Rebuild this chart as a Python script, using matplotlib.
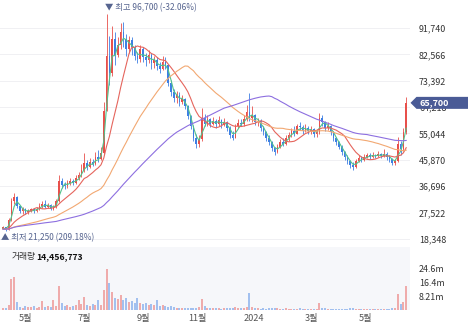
import numpy as np
import pandas as pd
import matplotlib
matplotlib.use('Agg')
import matplotlib.pyplot as plt
import matplotlib.transforms as mtransforms
from matplotlib.patches import Polygon

plt.rcParams['font.family'] = ['Noto Sans CJK KR', 'DejaVu Sans']

# two-session candles, Apr 2023 - Jun 2024 (won)
closes = [22400, 21600, 24800, 31500, 32800, 29800, 28200, 28800, 27600, 28000,
          28700, 28100, 28900, 29800, 30500, 29600, 30200, 28900, 29500, 31500,
          38500, 37200, 36800, 37900, 38600, 37700, 39400, 40500, 42500, 44800,
          43300, 45200, 44400, 47000, 46300, 48200, 63000, 82000, 76000, 88000,
          82500, 86000, 90500, 88000, 84500, 87500, 85000, 82000, 81000, 84500,
          81500, 80500, 82500, 79500, 80500, 78500, 77500, 80000, 79000, 72500,
          69500, 67500, 68500, 66000, 67200, 64500, 61000, 57500, 53500, 51500,
          53000, 60500, 58500, 60000, 58200, 59500, 58300, 59800, 58000, 59000,
          57000, 54500, 53500, 57500, 58800, 58200, 60000, 62500, 60500, 61500,
          59000, 59500, 57000, 55500, 53500, 52000, 50000, 48500, 50500, 52000,
          51500, 53500, 54500, 56000, 55000, 57500, 57200, 56000, 57000, 55800,
          56500, 54800, 55500, 60500, 59000, 57000, 57800, 55500, 53500, 52000,
          50500, 48500, 47000, 45500, 44000, 43500, 45500, 46500, 45800, 47000,
          47500, 47000, 47600, 47200, 47800, 47300, 47900, 47000, 46300, 44800,
          45500, 51500, 49500, 55500, 65700]
highs = [22900, 22600, 25500, 32500, 34400, 33200, 29800, 29500, 29000, 28700,
         29300, 29000, 29600, 30700, 31400, 31800, 31000, 30500, 30200, 32400,
         40500, 39500, 38200, 38800, 39600, 39200, 40600, 41800, 44500, 48300,
         46000, 46500, 46200, 48500, 49300, 50200, 66000, 96700, 89000, 92500,
         90500, 88500, 93500, 93800, 89500, 89000, 88500, 86000, 83500, 86000,
         85000, 83000, 84000, 83000, 82000, 81500, 80000, 82000, 81500, 79000,
         73500, 70500, 70000, 69500, 68500, 67500, 65000, 61500, 58000, 55000,
         54500, 64000, 62000, 61500, 60500, 60800, 60000, 61000, 60200, 60500,
         59500, 57500, 56000, 58500, 60000, 60200, 61500, 65000, 69000, 64500,
         62000, 60500, 60000, 57500, 56000, 54500, 52500, 50500, 51500, 53000,
         53500, 54500, 55500, 57000, 57500, 58500, 59000, 58000, 58500, 57500,
         57500, 57000, 56500, 62300, 61500, 59500, 59000, 58000, 56000, 54000,
         52500, 51000, 49000, 47500, 46000, 45000, 46200, 47500, 47200, 48000,
         48300, 48200, 48500, 48000, 48800, 48300, 49500, 48500, 47500, 46500,
         46300, 54000, 52500, 57000, 67600]
lows = [21700, 21250, 21500, 24600, 30500, 29000, 27400, 27200, 27000, 26900,
        27600, 27500, 27900, 28600, 29300, 29100, 29000, 28300, 28600, 29200,
        31300, 36000, 35800, 36200, 37300, 37000, 37500, 39000, 40000, 41800,
        42500, 43000, 43600, 44000, 45000, 45900, 48000, 63000, 72000, 75000,
        79000, 81500, 84500, 85000, 82000, 83000, 82500, 80500, 79500, 80000,
        80000, 78500, 79500, 77500, 78000, 77000, 76000, 77000, 77500, 71500,
        68000, 66000, 65500, 64500, 65200, 63500, 60000, 56500, 52500, 50000,
        50500, 52500, 57500, 57800, 57200, 57900, 57000, 57800, 56800, 57500,
        56000, 53500, 52800, 53500, 57000, 57500, 57800, 59500, 59500, 59000,
        58000, 57500, 56000, 54500, 52500, 51000, 49000, 47600, 48200, 50000,
        50800, 51000, 52500, 53800, 54200, 54800, 56200, 55000, 55500, 54800,
        54900, 53800, 54000, 55000, 57500, 56000, 56300, 54500, 52500, 51000,
        49500, 47500, 46000, 44500, 43000, 42500, 43200, 45000, 45000, 45500,
        46500, 46300, 46600, 46500, 46800, 46500, 46800, 46000, 45300, 44200,
        44000, 45000, 47500, 49000, 55000]
# volume, millions of shares
volumes = [1.0, 1.5, 3.0, 18.5, 19.8, 5.0, 2.0, 1.5, 2.5, 2.0,
           1.8, 2.2, 1.5, 2.0, 5.5, 2.0, 2.5, 2.0, 6.2, 2.5,
           14.3, 4.0, 2.5, 3.0, 2.0, 2.5, 3.0, 5.8, 3.5, 7.6,
           3.0, 2.5, 3.5, 3.0, 5.8, 3.0, 12.0, 24.6, 16.0, 10.6,
           7.5, 6.5, 8.8, 6.0, 7.0, 5.0, 5.5, 4.5, 7.0, 4.0,
           3.5, 4.0, 3.0, 3.5, 3.0, 5.8, 2.5, 3.0, 2.5, 2.0,
           2.5, 2.0, 1.5, 1.5, 1.2, 1.5, 1.2, 1.0, 1.2, 1.5,
           2.0, 6.4, 2.5, 1.5, 1.2, 1.0, 1.0, 1.2, 0.9, 1.0,
           1.2, 1.5, 1.3, 1.8, 1.2, 1.0, 1.2, 2.0, 10.2, 2.0,
           1.2, 1.0, 0.9, 1.0, 0.8, 1.0, 1.2, 1.5, 1.0, 0.9,
           0.8, 1.0, 0.8, 0.9, 0.7, 0.8, 1.0, 0.8, 0.7, 0.8,
           0.9, 0.7, 0.8, 4.1, 1.5, 1.0, 0.8, 0.7, 0.8, 0.7,
           0.6, 0.8, 0.7, 0.9, 1.2, 1.0, 0.8, 0.7, 0.6, 0.7,
           0.8, 0.6, 0.7, 0.6, 0.8, 0.7, 0.9, 0.6, 0.8, 1.0,
           1.5, 9.4, 3.5, 4.7, 14.456773]
# earlier closes, only feed the moving averages
prior_closes = [21900, 22300, 22100, 21700, 21500, 21800, 22200, 22000, 21600, 21400,
                21700, 21900, 21600, 21300, 21500, 21800, 22100, 21900, 21600, 21400,
                21200, 21500, 21700, 21900, 21600, 21400, 21600, 21900, 22100, 21800]

month_labels = ['5월', '7월', '9월', '11월', '2024', '3월', '5월']
month_pos = [8.0, 28.9, 50.2, 69.5, 89.5, 110.1, 129.6]
price_ticks = [18348, 27522, 36696, 45870, 55044, 64218, 73392, 82566, 91740]
vol_ticks = [8.21, 16.4, 24.6]
vol_tick_labels = ['8.21m', '16.4m', '24.6m']
ma_windows = [3, 10, 30, 60]
ma_colors = ['#52c28c', '#e5655d', '#f2a872', '#8d6fe0']

UP, DOWN = '#e8504b', '#3d7fe3'
W, H = 474, 334

closes = np.array(closes, float)
opens = np.r_[prior_closes[-1], closes[:-1]]
idx = np.arange(len(closes))
up = closes >= opens
cols = np.where(up, UP, DOWN)

fig = plt.figure(figsize=(W / 100, H / 100), dpi=100)
ax = fig.add_axes([0, 1 - 245 / H, 410 / W, 245 / H])
axv = fig.add_axes([0, 1 - 310 / H, 410 / W, 63 / H])

# candles
ax.vlines(idx, lows, highs, colors=cols, lw=0.6, zorder=2)
body = np.maximum(np.abs(closes - opens), 150)
ax.bar(idx, body, bottom=np.minimum(opens, closes), width=0.62, color=cols, lw=0, zorder=2)

# moving averages
allc = pd.Series(np.r_[prior_closes, closes])
for w, c in zip(ma_windows, ma_colors):
    ma = allc.rolling(w, min_periods=1).mean().iloc[len(prior_closes):]
    ax.plot(idx, ma.values, color=c, lw=0.8, zorder=3)

xl = (-3 / 2.8, 407 / 2.8)
ax.set_xlim(xl)
ax.set_ylim(16261, 101479)
ax.set_yticks(price_ticks)
ax.set_yticklabels([f'{t:,}' for t in price_ticks])
ax.yaxis.tick_right()
ax.tick_params(axis='y', length=0, pad=6.5, labelsize=6.4, labelcolor='#333333')
ax.set_xticks([])
ax.grid(axis='y', color='#f0f0f3', lw=0.7)
for s in ax.spines.values():
    s.set_visible(False)

# high / low markers
hi_i = int(np.argmax(highs))
lo_i = int(np.argmin(lows))
ax.annotate(f'▼ 최고 {highs[hi_i]:,} (-32.06%)', xy=(hi_i, highs[hi_i]), xytext=(-0.8, 1.2),
            textcoords='offset points', ha='left', va='bottom', fontsize=6, color='#56648f')
ax.annotate(f'▲ 최저 {lows[lo_i]:,} (209.18%)', xy=(lo_i, lows[lo_i]), xytext=(-3.2, -1.5),
            textcoords='offset points', ha='left', va='top', fontsize=6, color='#56648f')

# last price badge
last = closes[-1]
tr = mtransforms.blended_transform_factory(ax.transAxes, ax.transData)
hh = 6 * 347.8
badge = Polygon([(410.5 / 410, last), (416.5 / 410, last + hh), (468 / 410, last + hh),
                 (468 / 410, last - hh), (416.5 / 410, last - hh)],
                closed=True, transform=tr, facecolor='#4a5b96', edgecolor='none',
                clip_on=False, zorder=5)
ax.add_patch(badge)
ax.text(419 / 410, last, f'{int(last):,}', transform=tr, ha='left', va='center',
        fontsize=6.4, color='white', fontweight='bold', zorder=6, clip_on=False)

# volume panel
axv.set_facecolor('#f6f7fa')
axv.bar(idx, volumes, width=0.7, color=cols, alpha=0.45, lw=0)
axv.set_xlim(xl)
axv.set_ylim(0, 37.8)
axv.set_yticks(vol_ticks)
axv.set_yticklabels(vol_tick_labels)
axv.yaxis.tick_right()
axv.tick_params(axis='y', length=0, pad=6.5, labelsize=6.4, labelcolor='#333333')
axv.set_xticks(month_pos)
axv.set_xticklabels(month_labels)
axv.tick_params(axis='x', length=0, pad=3, labelsize=6.6, labelcolor='#555555')
for s in axv.spines.values():
    s.set_visible(False)

fig.text(12 / W, 1 - 257 / H, '거래량', fontsize=6.3, color='#333333', va='center')
fig.text(36 / W, 1 - 257 / H, f'{volumes[-1] * 1e6:,.0f}', fontsize=6.3,
         color='#111111', fontweight='bold', va='center')

fig.savefig('out.png', dpi=100)
